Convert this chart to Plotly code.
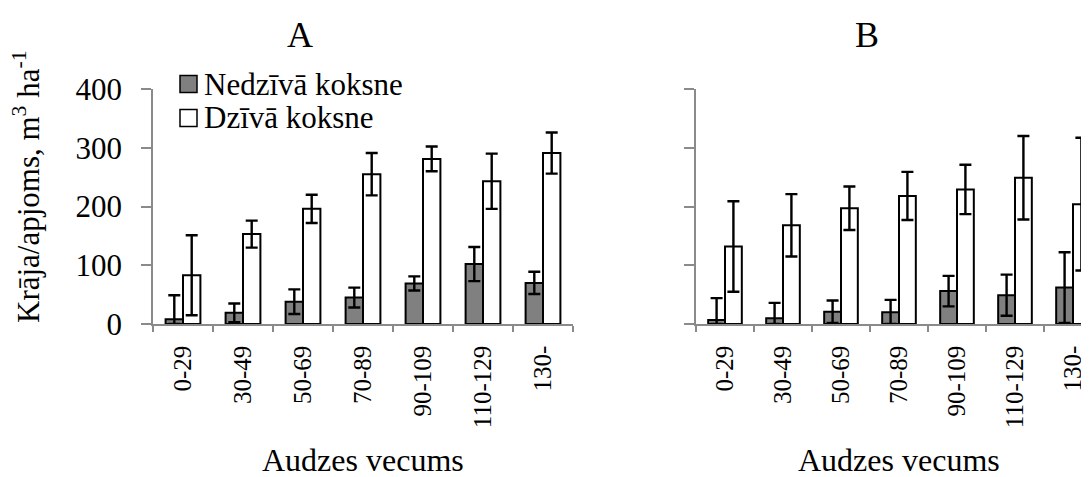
import plotly.graph_objects as go

categories = ["0-29", "30-49", "50-69", "70-89", "90-109", "110-129", "130-"]
series_names = ["Nedzīvā koksne", "Dzīvā koksne"]
series_colors = ["#808080", "white"]

# Panel A
a_dead = [8, 19, 38, 45, 69, 102, 70]
a_dead_err = [41, 16, 21, 17, 12, 29, 19]
a_live = [83, 153, 196, 255, 281, 243, 291]
a_live_err = [68, 23, 24, 36, 21, 47, 35]

# Panel B
b_dead = [7, 10, 21, 20, 56, 49, 62]
b_dead_err = [37, 26, 19, 21, 26, 35, 60]
b_live = [132, 168, 197, 218, 229, 249, 204]
b_live_err = [77, 53, 37, 41, 42, 71, 113]

y_ticks = [0, 100, 200, 300, 400]

FONT = "Liberation Serif, Times New Roman, serif"
OFF = 8  # page body margin
W, H = 1089 - OFF, 477 - OFF
T = 89 - OFF
B = H - (324 - OFF)
PH = H - T - B


def px_x(x):
    return (x - OFF) / W


def px_y(y):
    return (H - B - (y - OFF)) / PH


fig = go.Figure()


def add_pair(dead, dead_err, live, live_err, xa, ya):
    for vals, errs, name, col in ((dead, dead_err, series_names[0], series_colors[0]),
                                  (live, live_err, series_names[1], series_colors[1])):
        fig.add_trace(go.Bar(
            x=categories, y=vals, name=name,
            marker=dict(color=col, line=dict(color="black", width=2)),
            error_y=dict(type="data", array=errs,
                         arrayminus=[min(e, v) for e, v in zip(errs, vals)],
                         color="black", thickness=2.4, width=6),
            xaxis=xa, yaxis=ya, showlegend=False))


add_pair(a_dead, a_dead_err, a_live, a_live_err, "x", "y")
add_pair(b_dead, b_dead_err, b_live, b_live_err, "x2", "y2")

axis_gray = "#8a8a8a"
xcommon = dict(type="category", tickson="boundaries", ticks="outside", ticklen=6,
               tickcolor=axis_gray, tickwidth=1.5, showline=True, linecolor=axis_gray,
               linewidth=1.5, showgrid=False, tickangle=-90, zeroline=False,
               ticklabelstandoff=10,
               tickfont=dict(family=FONT, size=25, color="black"))
ycommon = dict(range=[0, 400], tickvals=y_ticks, ticks="outside", ticklen=10,
               tickcolor=axis_gray, tickwidth=1.5, showline=True, linecolor=axis_gray,
               linewidth=1.5, showgrid=False, zeroline=False,
               tickfont=dict(family=FONT, size=31, color="black"))


def ann(text, x, y, size, xanchor="center", yanchor="middle", **kw):
    return dict(text=text, x=px_x(x), y=px_y(y), xref="paper", yref="paper",
                xanchor=xanchor, yanchor=yanchor, showarrow=False,
                font=dict(family=FONT, size=size, color="black"), **kw)


# legend drawn as key squares + labels
legend_rows_y = [84, 118]
shapes = []
legend_anns = []
for name, col, yc in zip(series_names, series_colors, legend_rows_y):
    shapes.append(dict(type="rect", xref="paper", yref="paper",
                       x0=px_x(180), x1=px_x(197), y0=px_y(yc - 8.5), y1=px_y(yc + 8.5),
                       fillcolor=col, line=dict(color="black", width=1.5)))
    legend_anns.append(ann(name, 202, yc, 31, xanchor="left"))

fig.update_layout(
    width=W, height=H,
    margin=dict(l=0, r=0, t=T, b=B),
    paper_bgcolor="white", plot_bgcolor="white",
    barmode="group", bargap=0.42, bargroupgap=0,
    font=dict(family=FONT, size=31, color="black"),
    showlegend=False,
    xaxis=dict(domain=[px_x(153), px_x(573)], range=[-0.5, 6.5], anchor="y", **xcommon),
    yaxis=dict(anchor="x", ticklabelstandoff=13, **ycommon),
    xaxis2=dict(domain=[px_x(696), 1.0], range=[-0.5, 6.5 - 13 / 58], anchor="y2", **xcommon),
    yaxis2=dict(anchor="x2", showticklabels=False, **ycommon),
    shapes=shapes,
    annotations=[
        ann("A", 300, 35, 36),
        ann("B", 867, 35, 36),
        ann("Audzes vecums", 363, 480, 32, yanchor="bottom"),
        ann("Audzes vecums", 899, 480, 32, yanchor="bottom"),
        ann("Krāja/apjoms, m<sup>3</sup> ha<sup>-1</sup>", 26, 187, 31, textangle=-90),
    ] + legend_anns,
)

fig.write_html("out.html")
